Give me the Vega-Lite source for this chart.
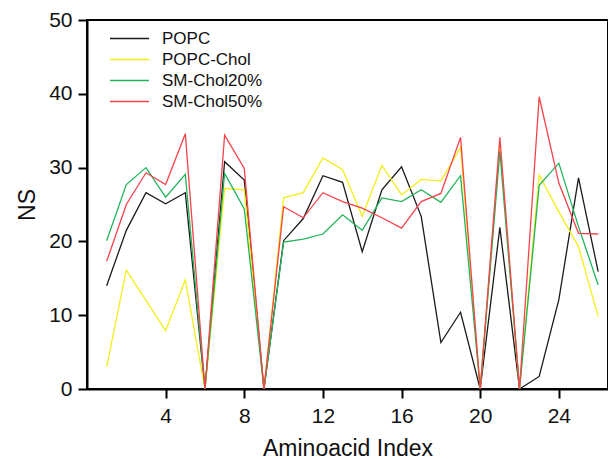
{
  "$schema": "https://vega.github.io/schema/vega-lite/v6.json",
  "autosize": {"type": "none"},
  "padding": {"left": 87, "top": 20, "right": 0, "bottom": 70},
  "width": 521,
  "height": 369,
  "background": "white",
  "config": {
    "font": "Liberation Sans",
    "view": {"stroke": "black", "strokeWidth": 2}
  },
  "data": {
    "values": [
      {"i": 1, "s": "POPC", "ns": 14.0}, {"i": 2, "s": "POPC", "ns": 21.5}, {"i": 3, "s": "POPC", "ns": 26.6}, {"i": 4, "s": "POPC", "ns": 25.1}, {"i": 5, "s": "POPC", "ns": 26.6}, {"i": 6, "s": "POPC", "ns": 0}, {"i": 7, "s": "POPC", "ns": 30.8}, {"i": 8, "s": "POPC", "ns": 28.3}, {"i": 9, "s": "POPC", "ns": 0}, {"i": 10, "s": "POPC", "ns": 20.1}, {"i": 11, "s": "POPC", "ns": 23.1}, {"i": 12, "s": "POPC", "ns": 28.9}, {"i": 13, "s": "POPC", "ns": 28.0}, {"i": 14, "s": "POPC", "ns": 18.6}, {"i": 15, "s": "POPC", "ns": 27.0}, {"i": 16, "s": "POPC", "ns": 30.1}, {"i": 17, "s": "POPC", "ns": 23.4}, {"i": 18, "s": "POPC", "ns": 6.3}, {"i": 19, "s": "POPC", "ns": 10.4}, {"i": 20, "s": "POPC", "ns": 0}, {"i": 21, "s": "POPC", "ns": 21.9}, {"i": 22, "s": "POPC", "ns": 0}, {"i": 23, "s": "POPC", "ns": 1.7}, {"i": 24, "s": "POPC", "ns": 12.1}, {"i": 25, "s": "POPC", "ns": 28.6}, {"i": 26, "s": "POPC", "ns": 15.9},
      {"i": 1, "s": "POPC-Chol", "ns": 3.0}, {"i": 2, "s": "POPC-Chol", "ns": 16.1}, {"i": 3, "s": "POPC-Chol", "ns": 12.0}, {"i": 4, "s": "POPC-Chol", "ns": 7.9}, {"i": 5, "s": "POPC-Chol", "ns": 14.8}, {"i": 6, "s": "POPC-Chol", "ns": 0}, {"i": 7, "s": "POPC-Chol", "ns": 27.2}, {"i": 8, "s": "POPC-Chol", "ns": 27.0}, {"i": 9, "s": "POPC-Chol", "ns": 0}, {"i": 10, "s": "POPC-Chol", "ns": 25.9}, {"i": 11, "s": "POPC-Chol", "ns": 26.6}, {"i": 12, "s": "POPC-Chol", "ns": 31.3}, {"i": 13, "s": "POPC-Chol", "ns": 29.7}, {"i": 14, "s": "POPC-Chol", "ns": 23.4}, {"i": 15, "s": "POPC-Chol", "ns": 30.3}, {"i": 16, "s": "POPC-Chol", "ns": 26.3}, {"i": 17, "s": "POPC-Chol", "ns": 28.4}, {"i": 18, "s": "POPC-Chol", "ns": 28.2}, {"i": 19, "s": "POPC-Chol", "ns": 32.7}, {"i": 20, "s": "POPC-Chol", "ns": 0}, {"i": 21, "s": "POPC-Chol", "ns": 33.0}, {"i": 22, "s": "POPC-Chol", "ns": 0}, {"i": 23, "s": "POPC-Chol", "ns": 29.0}, {"i": 24, "s": "POPC-Chol", "ns": 24.0}, {"i": 25, "s": "POPC-Chol", "ns": 19.3}, {"i": 26, "s": "POPC-Chol", "ns": 9.8},
      {"i": 1, "s": "SM-Chol20%", "ns": 20.1}, {"i": 2, "s": "SM-Chol20%", "ns": 27.7}, {"i": 3, "s": "SM-Chol20%", "ns": 30.0}, {"i": 4, "s": "SM-Chol20%", "ns": 26.0}, {"i": 5, "s": "SM-Chol20%", "ns": 29.1}, {"i": 6, "s": "SM-Chol20%", "ns": 0}, {"i": 7, "s": "SM-Chol20%", "ns": 29.2}, {"i": 8, "s": "SM-Chol20%", "ns": 24.4}, {"i": 9, "s": "SM-Chol20%", "ns": 0}, {"i": 10, "s": "SM-Chol20%", "ns": 19.9}, {"i": 11, "s": "SM-Chol20%", "ns": 20.3}, {"i": 12, "s": "SM-Chol20%", "ns": 21.0}, {"i": 13, "s": "SM-Chol20%", "ns": 23.6}, {"i": 14, "s": "SM-Chol20%", "ns": 21.5}, {"i": 15, "s": "SM-Chol20%", "ns": 25.9}, {"i": 16, "s": "SM-Chol20%", "ns": 25.4}, {"i": 17, "s": "SM-Chol20%", "ns": 27.0}, {"i": 18, "s": "SM-Chol20%", "ns": 25.3}, {"i": 19, "s": "SM-Chol20%", "ns": 28.9}, {"i": 20, "s": "SM-Chol20%", "ns": 0}, {"i": 21, "s": "SM-Chol20%", "ns": 32.2}, {"i": 22, "s": "SM-Chol20%", "ns": 0}, {"i": 23, "s": "SM-Chol20%", "ns": 27.6}, {"i": 24, "s": "SM-Chol20%", "ns": 30.6}, {"i": 25, "s": "SM-Chol20%", "ns": 22.0}, {"i": 26, "s": "SM-Chol20%", "ns": 14.1},
      {"i": 1, "s": "SM-Chol50%", "ns": 17.3}, {"i": 2, "s": "SM-Chol50%", "ns": 25.0}, {"i": 3, "s": "SM-Chol50%", "ns": 29.3}, {"i": 4, "s": "SM-Chol50%", "ns": 27.7}, {"i": 5, "s": "SM-Chol50%", "ns": 34.6}, {"i": 6, "s": "SM-Chol50%", "ns": 0}, {"i": 7, "s": "SM-Chol50%", "ns": 34.4}, {"i": 8, "s": "SM-Chol50%", "ns": 29.9}, {"i": 9, "s": "SM-Chol50%", "ns": 0}, {"i": 10, "s": "SM-Chol50%", "ns": 24.7}, {"i": 11, "s": "SM-Chol50%", "ns": 23.2}, {"i": 12, "s": "SM-Chol50%", "ns": 26.6}, {"i": 13, "s": "SM-Chol50%", "ns": 25.4}, {"i": 14, "s": "SM-Chol50%", "ns": 24.5}, {"i": 15, "s": "SM-Chol50%", "ns": 23.2}, {"i": 16, "s": "SM-Chol50%", "ns": 21.8}, {"i": 17, "s": "SM-Chol50%", "ns": 25.4}, {"i": 18, "s": "SM-Chol50%", "ns": 26.5}, {"i": 19, "s": "SM-Chol50%", "ns": 34.1}, {"i": 20, "s": "SM-Chol50%", "ns": 0}, {"i": 21, "s": "SM-Chol50%", "ns": 34.1}, {"i": 22, "s": "SM-Chol50%", "ns": 0}, {"i": 23, "s": "SM-Chol50%", "ns": 39.6}, {"i": 24, "s": "SM-Chol50%", "ns": 27.9}, {"i": 25, "s": "SM-Chol50%", "ns": 21.1}, {"i": 26, "s": "SM-Chol50%", "ns": 21.0}
    ]
  },
  "mark": {"type": "line", "strokeWidth": 1.3, "clip": true},
  "encoding": {
    "x": {
      "field": "i", "type": "quantitative",
      "scale": {"domain": [0, 26.5], "nice": false, "zero": false},
      "axis": {
        "title": "Aminoacid Index", "values": [4, 8, 12, 16, 20, 24], "grid": false,
        "domainColor": "black", "domainWidth": 2, "tickColor": "black", "tickWidth": 2, "tickSize": 9,
        "labelFont": "Liberation Sans", "labelFontSize": 21, "labelColor": "#111", "labelPadding": 7,
        "titleFont": "Liberation Sans", "titleFontSize": 23, "titleFontWeight": "normal", "titleColor": "#111", "titlePadding": 11
      }
    },
    "y": {
      "field": "ns", "type": "quantitative",
      "scale": {"domain": [0, 50], "nice": false},
      "axis": {
        "title": "NS", "values": [0, 10, 20, 30, 40, 50], "grid": false,
        "domainColor": "black", "domainWidth": 2, "tickColor": "black", "tickWidth": 2, "tickSize": 9,
        "labelFont": "Liberation Sans", "labelFontSize": 21, "labelColor": "#111", "labelPadding": 6,
        "titleFont": "Liberation Sans", "titleFontSize": 23, "titleFontWeight": "normal", "titleColor": "#111", "titlePadding": 9
      }
    },
    "color": {
      "field": "s", "type": "nominal",
      "scale": {"domain": ["POPC", "POPC-Chol", "SM-Chol20%", "SM-Chol50%"], "range": ["#1a1a1a", "#f2ee1a", "#22b35a", "#f5424b"]},
      "legend": {
        "title": null, "orient": "none", "legendX": 32, "legendY": 8, "padding": 0,
        "symbolType": "M-2,0H2", "symbolSize": 380, "symbolStrokeWidth": 1.5,
        "labelFont": "Liberation Sans", "labelFontSize": 17, "labelColor": "#111", "labelOffset": 22,
        "rowPadding": 2
      }
    }
  }
}
